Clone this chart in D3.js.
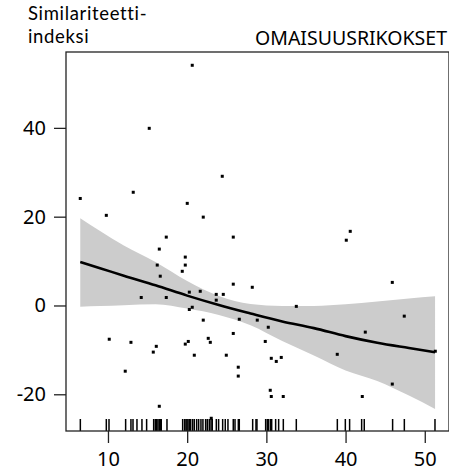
<!DOCTYPE html>
<html><head><meta charset="utf-8">
<script src="https://cdn.jsdelivr.net/npm/d3@7"></script>
<style>
html,body{margin:0;padding:0;background:#fff;}
svg{display:block;}
text{font-family:"Noto Sans","Open Sans",sans-serif;fill:#000;}
</style></head>
<body>
<svg id="chart" width="449" height="472"></svg>
<script>
// ---- data ----
const pointX = [20.64,15.21,24.43,6.50,13.19,20.01,9.79,22.03,17.36,25.82,16.48,40.59,40.09,19.76,16.22,19.76,19.38,16.60,25.82,28.22,20.27,21.65,23.67,24.56,14.20,17.36,23.67,20.64,20.27,22.03,26.58,28.85,25.82,10.16,22.66,22.92,12.90,20.14,19.76,16.10,15.72,20.90,24.94,26.45,26.45,12.18,16.48,23.04,33.78,30.24,47.41,42.49,29.86,30.62,31.88,31.25,38.95,51.33,45.90,30.49,30.62,32.13,42.11,45.90];
const pointY = [54.1,39.9,29.1,24.1,25.5,23.0,20.3,19.9,15.4,15.4,12.7,16.7,14.7,10.9,9.1,9.1,7.7,6.6,4.8,4.1,3.0,3.2,2.5,2.5,1.8,1.8,1.2,-0.4,-0.9,-3.3,-3.1,-3.3,-6.3,-7.6,-7.4,-8.3,-8.3,-8.1,-8.7,-9.2,-10.5,-11.2,-11.2,-13.9,-15.9,-14.8,-22.7,-25.4,-0.2,-4.9,-2.4,-6.0,-8.1,-11.9,-11.7,-12.6,-11.0,-10.3,-17.7,-19.1,-20.5,-20.5,-20.5,5.2];
const rugX = [6.51,9.79,10.13,12.23,12.90,13.16,13.66,14.29,14.88,15.77,15.98,16.14,16.31,16.48,16.61,16.73,17.45,19.43,19.68,19.85,19.97,20.10,20.27,20.44,20.69,20.90,21.20,21.45,21.74,21.99,22.33,22.54,22.79,23.01,23.17,23.68,23.97,24.48,24.81,25.15,25.82,26.04,26.46,26.58,28.27,28.69,28.81,29.91,30.12,30.29,30.54,30.67,31.17,31.55,32.14,33.78,38.96,39.97,40.51,42.03,42.36,45.94,47.42,51.29];
const fitX = [6.5,9,12,16,20,24,28,32,36,40,44,48,51.3];
const fitY = [9.8,8.41,6.69,4.54,2.22,0.1,-1.79,-3.59,-5.10,-6.90,-8.40,-9.58,-10.53];
const bandUpper = [19.64,16.78,13.51,9.80,5.52,2.14,0.34,-0.11,-0.11,0.27,0.90,1.58,2.07];
const bandLower = [-0.27,-0.11,0.07,0.29,-0.68,-2.14,-4.44,-8.0,-11.26,-14.64,-17.0,-20.27,-23.31];
const xTicks = [10,20,30,40,50];
const yTicks = [-20,0,20,40];
const yTitle = ["Similariteetti-","indeksi"];
const panelTitle = "OMAISUUSRIKOKSET";

// ---- drawing ----
const svg = d3.select("#chart");
const L = 66, R = 449, T = 52, B = 431;
const x = d3.scaleLinear().domain([4.7, 53.06]).range([L, R]);
const y = d3.scaleLinear().domain([-28.27, 57.09]).range([B, T]);

const band = fitX.map((v,i)=>({x:v, lo:bandLower[i], hi:bandUpper[i], f:fitY[i]}));

svg.append("path").datum(band)
  .attr("d", d3.area().x(d=>x(d.x)).y0(d=>y(d.lo)).y1(d=>y(d.hi)).curve(d3.curveMonotoneX))
  .attr("fill", "#cccccc");

svg.append("path").datum(band)
  .attr("d", d3.line().x(d=>x(d.x)).y(d=>y(d.f)).curve(d3.curveMonotoneX))
  .attr("fill", "none").attr("stroke", "#000").attr("stroke-width", 2.6);

svg.append("g").selectAll("rect").data(pointX.map((v,i)=>[v,pointY[i]]))
  .join("rect")
  .attr("x", d=>x(d[0])-1.5).attr("y", d=>y(d[1])-1.5)
  .attr("width", 3).attr("height", 3).attr("fill", "#000");

svg.append("g").selectAll("line").data(rugX).join("line")
  .attr("x1", d=>x(d)).attr("x2", d=>x(d))
  .attr("y1", B-12).attr("y2", B)
  .attr("stroke", "#000").attr("stroke-width", 1.5);

// frame
svg.append("rect").attr("x", L).attr("y", T).attr("width", R-L).attr("height", B-T)
  .attr("fill", "none").attr("stroke", "#222").attr("stroke-width", 1.3);

const fmt = d => String(d);
const yAxis = svg.append("g").attr("transform", `translate(${L},0)`)
  .call(d3.axisLeft(y).tickValues(yTicks).tickSize(12).tickPadding(8).tickFormat(fmt));
const xAxis = svg.append("g").attr("transform", `translate(0,${B})`)
  .call(d3.axisBottom(x).tickValues(xTicks).tickSize(12).tickPadding(9).tickFormat(fmt));
[yAxis, xAxis].forEach(g=>{
  g.select(".domain").remove();
  g.selectAll(".tick line").attr("stroke", "#222").attr("stroke-width", 1.3);
  g.selectAll(".tick text").attr("font-size", 20).attr("font-family", "Noto Sans").attr("fill", "#000");
});

const yt = svg.append("g").attr("font-family", "Lato").attr("font-size", 18.5);
yt.append("text").attr("x", 28).attr("y", 20.3).style("font-family", "Lato").style("letter-spacing", "0.65px").text(yTitle[0]);
yt.append("text").attr("x", 28).attr("y", 42.8).style("font-family", "Lato").style("letter-spacing", "0.65px").text(yTitle[1]);
svg.append("text").attr("x", 447).attr("y", 45).attr("text-anchor", "end").attr("font-size", 19.5).text(panelTitle);
</script>
</body></html>
